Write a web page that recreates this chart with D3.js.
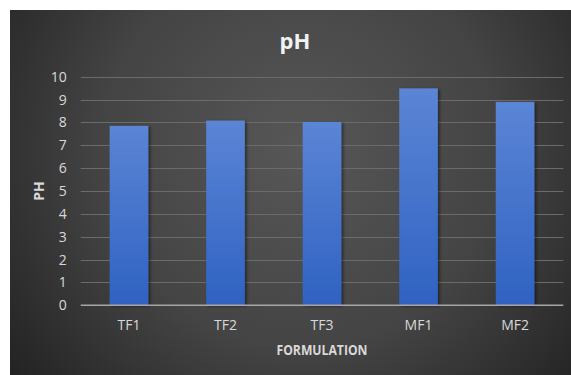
<!DOCTYPE html>
<html>
<head>
<meta charset="utf-8">
<script src="https://cdn.jsdelivr.net/npm/d3@7/dist/d3.min.js"></script>
<style>
  html, body { margin: 0; padding: 0; background: #ffffff; }
  svg { display: block; }
</style>
</head>
<body>
<svg id="chart" width="571" height="375"></svg>
<script>
// pH readings per formulation
const categories = ["TF1", "TF2", "TF3", "MF1", "MF2"];
const phValues = [7.85, 8.08, 8.02, 9.49, 8.9];
const yTicks = [0, 1, 2, 3, 4, 5, 6, 7, 8, 9, 10];

const W = 571, H = 375;
const svg = d3.select("#chart");
const defs = svg.append("defs");

// dark chart-area background with a lighter centre
const bg = defs.append("radialGradient").attr("id", "bgGrad")
  .attr("gradientUnits", "userSpaceOnUse")
  .attr("cx", 300).attr("cy", 150).attr("r", 360);
bg.append("stop").attr("offset", "0%").attr("stop-color", "#575757");
bg.append("stop").attr("offset", "55%").attr("stop-color", "#444444");
bg.append("stop").attr("offset", "100%").attr("stop-color", "#242424");

const barGrad = defs.append("linearGradient").attr("id", "barGrad")
  .attr("x1", 0).attr("y1", 0).attr("x2", 0).attr("y2", 1);
barGrad.append("stop").attr("offset", "0%").attr("stop-color", "#5b85d5");
barGrad.append("stop").attr("offset", "100%").attr("stop-color", "#2f62c2");

const shadow = defs.append("filter").attr("id", "barShadow")
  .attr("x", "-20%").attr("y", "-10%").attr("width", "150%").attr("height", "130%");
shadow.append("feDropShadow").attr("dx", 2).attr("dy", 1)
  .attr("stdDeviation", 1.5).attr("flood-color", "#000").attr("flood-opacity", 0.45);

svg.append("rect").attr("x", 10).attr("y", 10)
  .attr("width", W - 10).attr("height", H - 10)
  .attr("fill", "url(#bgGrad)");

const plot = { left: 80.7, right: 563.3, top: 76.7, bottom: 305.3 };
const x = d3.scaleBand().domain(categories)
  .range([plot.left, plot.right])
  .paddingInner(0.6).paddingOuter(0.3);
const y = d3.scaleLinear().domain([0, 10])
  .range([plot.bottom, plot.top]);

const font = "'Open Sans', 'Noto Sans', sans-serif";
const labelColor = "#d9d9d9";

// horizontal gridlines
svg.append("g").selectAll("line").data(yTicks.filter(d => d > 0)).join("line")
  .attr("x1", plot.left).attr("x2", plot.right)
  .attr("y1", d => Math.round(y(d)) + 0.5).attr("y2", d => Math.round(y(d)) + 0.5)
  .attr("stroke", "#6b6b6b").attr("stroke-width", 1);

// y axis tick labels
const yAxis = d3.axisLeft(y).tickValues(yTicks).tickSize(0).tickPadding(14);
const gy = svg.append("g").attr("transform", `translate(${plot.left},0)`).call(yAxis);
gy.select(".domain").remove();
gy.selectAll("text").attr("fill", labelColor)
  .style("font-family", font).style("font-size", "14px");

// bars
svg.append("g").selectAll("rect").data(categories).join("rect")
  .attr("x", d => x(d))
  .attr("y", (d, i) => y(phValues[i]))
  .attr("width", x.bandwidth())
  .attr("height", (d, i) => y(0) - y(phValues[i]))
  .attr("fill", "url(#barGrad)")
  .attr("filter", "url(#barShadow)");

// baseline
svg.append("line")
  .attr("x1", plot.left).attr("x2", plot.right)
  .attr("y1", y(0)).attr("y2", y(0))
  .attr("stroke", "#a6a6a6").attr("stroke-width", 1.4);

// x axis labels
const xAxis = d3.axisBottom(x).tickSize(0).tickPadding(15);
const gx = svg.append("g").attr("transform", `translate(0,${y(0)})`).call(xAxis);
gx.select(".domain").remove();
gx.selectAll("text").attr("fill", labelColor)
  .style("font-family", font).style("font-size", "14px");

// title
svg.append("text").attr("x", 295).attr("y", 48.5)
  .attr("text-anchor", "middle").attr("fill", "#f2f2f2")
  .style("font-family", font).style("font-weight", "bold").style("font-size", "22px")
  .text("pH");

// axis titles
svg.append("text").attr("x", (plot.left + plot.right) / 2).attr("y", 355)
  .attr("text-anchor", "middle").attr("fill", labelColor)
  .attr("textLength", 91).attr("lengthAdjust", "spacingAndGlyphs")
  .style("font-family", font).style("font-weight", "bold").style("font-size", "15px")
  .text("FORMULATION");

svg.append("text")
  .attr("transform", `translate(44,${y(5)}) rotate(-90)`)
  .attr("text-anchor", "middle").attr("fill", labelColor)
  .style("font-family", font).style("font-weight", "bold").style("font-size", "14px")
  .text("PH");
</script>
</body>
</html>
